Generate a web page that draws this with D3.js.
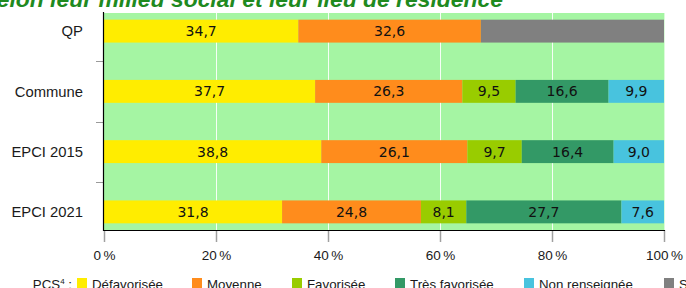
<!DOCTYPE html>
<html>
<head>
<meta charset="utf-8">
<script src="https://cdn.jsdelivr.net/npm/d3@7"></script>
<style>
  html, body { margin: 0; padding: 0; background: #ffffff; overflow: hidden; }
  svg { display: block; }
</style>
</head>
<body>
<svg id="chart" width="686" height="288"></svg>
<script>
"use strict";

// Data
const categories = ["QP", "Commune", "EPCI 2015", "EPCI 2021"];
const seriesNames = ["Défavorisée", "Moyenne", "Favorisée", "Très favorisée", "Non renseignée", "Secret statistique"];
const seriesColors = ["#ffed00", "#ff8c1c", "#99cc00", "#339966", "#48c3de", "#808080"];
const defavorisee = [34.7, 37.7, 38.8, 31.8];
const moyenne = [32.6, 26.3, 26.1, 24.8];
const favorisee = [0, 9.5, 9.7, 8.1];
const tresFavorisee = [0, 16.6, 16.4, 27.7];
const nonRenseignee = [0, 9.9, 9.0, 7.6];
const secretStat = [32.7, 0, 0, 0];
const showLabel = [true, true, true, true, true, false];
const xTicks = [0, 20, 40, 60, 80, 100];

const title = "selon leur milieu social et leur lieu de résidence";

const allSeries = [defavorisee, moyenne, favorisee, tresFavorisee, nonRenseignee, secretStat];

// build a table for d3.stack
const table = categories.map((c, i) => {
    let row = { cat: c };
    seriesNames.forEach((s, k) => { row[s] = allSeries[k][i]; });
    return row;
});

const svg = d3.select("#chart");

// Plot geometry
const plotLeft = 104, plotRight = 664;
const plotTop = 13, plotBottom = 230;

const x = d3.scaleLinear().domain([0, 100]).range([plotLeft, plotRight]);
const y = d3.scaleBand().domain(categories).range([1, 242]).paddingInner(0.62).paddingOuter(0.31);

// Title (top part cut off in the reference)
svg.append("text")
    .attr("x", 503)
    .attr("y", 7)
    .attr("text-anchor", "end")
    .attr("font-family", "Liberation Sans, Arial, sans-serif")
    .attr("font-size", 22.9)
    .attr("font-weight", "bold")
    .attr("font-style", "italic")
    .attr("fill", "#1f8a1f")
    .text(title);

// Plot background
svg.append("rect")
    .attr("x", plotLeft)
    .attr("y", plotTop)
    .attr("width", plotRight - plotLeft + 1)
    .attr("height", plotBottom - plotTop)
    .attr("fill", "#a5f5a3");

// Vertical gridlines
svg.append("g")
    .selectAll("line")
    .data(xTicks.slice(1))
    .enter()
    .append("line")
    .attr("x1", d => Math.round(x(d)) + 0.5)
    .attr("x2", d => Math.round(x(d)) + 0.5)
    .attr("y1", plotTop)
    .attr("y2", plotBottom)
    .attr("stroke", "#ffffff")
    .attr("stroke-opacity", d => d === 100 ? 0.6 : 0.9)
    .attr("stroke-width", 1);

// Stacked bars
const stack = d3.stack().keys(seriesNames);
const stacked = stack(table);

const layers = svg.append("g")
    .selectAll("g")
    .data(stacked)
    .enter()
    .append("g")
    .attr("fill", (d, i) => seriesColors[i]);

layers.selectAll("rect")
    .data(d => d)
    .enter()
    .append("rect")
    .attr("x", d => x(d[0]))
    .attr("y", d => y(d.data.cat))
    .attr("width", d => x(d[1]) - x(d[0]))
    .attr("height", y.bandwidth());

// Value labels
stacked.forEach((layer, k) => {
    if (!showLabel[k]) return;
    svg.append("g")
        .selectAll("text")
        .data(layer.filter(d => d[1] - d[0] > 0))
        .enter()
        .append("text")
        .attr("x", d => (x(d[0]) + x(d[1])) / 2)
        .attr("y", d => y(d.data.cat) + y.bandwidth() / 2)
        .attr("dy", "0.36em")
        .attr("text-anchor", "middle")
        .attr("font-family", "DejaVu Sans, sans-serif")
        .attr("font-size", 14)
        .attr("fill", "#111111")
        .text(d => d3.format(".1f")(d[1] - d[0]).replace(".", ","));
});

// Y axis: category labels, separator ticks and the axis line
svg.append("g")
    .selectAll("text")
    .data(categories)
    .enter()
    .append("text")
    .attr("x", 83)
    .attr("y", d => y(d) + y.bandwidth() / 2)
    .attr("dy", "0.36em")
    .attr("text-anchor", "end")
    .attr("font-family", "Liberation Sans, Arial, sans-serif")
    .attr("font-size", 14.8)
    .attr("fill", "#1a1a1a")
    .text(d => d);

const sepY = categories.slice(1).map(c => y(c) - y.step() * y.paddingInner() / 2);
svg.append("g")
    .selectAll("line")
    .data(sepY)
    .enter()
    .append("line")
    .attr("x1", 96)
    .attr("x2", plotLeft)
    .attr("y1", d => Math.round(d) + 0.5)
    .attr("y2", d => Math.round(d) + 0.5)
    .attr("stroke", "#9a9a9a")
    .attr("stroke-width", 1);

svg.append("line")
    .attr("x1", plotLeft - 0.5)
    .attr("x2", plotLeft - 0.5)
    .attr("y1", plotTop - 1)
    .attr("y2", plotBottom + 1)
    .attr("stroke", "#000000")
    .attr("stroke-width", 1.2);

// X axis
const xAxis = svg.append("g")
    .attr("transform", "translate(0," + plotBottom + ")")
    .call(d3.axisBottom(x).tickValues(xTicks).tickSize(12).tickPadding(8)
        .tickFormat(d => d + "\u2009%"));
xAxis.select(".domain").remove();
xAxis.selectAll(".tick line").attr("stroke", "#a0a0a0").attr("stroke-width", 1.5);
xAxis.selectAll(".tick text")
    .attr("font-family", "Liberation Sans, Arial, sans-serif")
    .attr("font-size", 13.5)
    .attr("fill", "#1a1a1a");

svg.append("line")
    .attr("x1", plotLeft - 1)
    .attr("x2", plotRight + 1)
    .attr("y1", plotBottom + 0.5)
    .attr("y2", plotBottom + 0.5)
    .attr("stroke", "#000000")
    .attr("stroke-width", 1.2);

// Legend (bottom, cut off in the reference)
const legendX = [77, 192, 292, 395, 524, 664];
const legend = svg.append("g");
const legendLabel = legend.append("text")
    .attr("x", 72)
    .attr("y", 289)
    .attr("text-anchor", "end")
    .attr("font-family", "Liberation Sans, Arial, sans-serif")
    .attr("font-size", 13.3)
    .attr("fill", "#1a1a1a");
legendLabel.append("tspan").text("PCS");
legendLabel.append("tspan").attr("font-size", 8).attr("dy", -5).text("4");
legendLabel.append("tspan").attr("dy", 5).text(" :");

const items = legend.selectAll("g.item")
    .data(seriesNames)
    .enter()
    .append("g")
    .attr("class", "item")
    .attr("transform", (d, i) => "translate(" + legendX[i] + ",0)");
items.append("rect")
    .attr("x", 0)
    .attr("y", 278)
    .attr("width", 10)
    .attr("height", 10)
    .attr("fill", (d, i) => seriesColors[i]);
items.append("text")
    .attr("x", 15)
    .attr("y", 289)
    .attr("font-family", "Liberation Sans, Arial, sans-serif")
    .attr("font-size", 13.3)
    .attr("fill", "#1a1a1a")
    .text(d => d);
</script>
</body>
</html>
